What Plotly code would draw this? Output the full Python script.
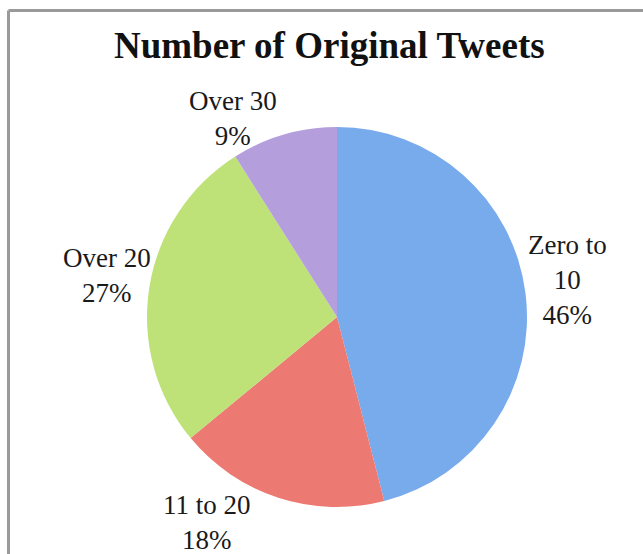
import plotly.graph_objects as go

categories = ["Zero to 10", "11 to 20", "Over 20", "Over 30"]
values = [46, 18, 27, 9]
label_lines = ["Zero to<br>10", "11 to 20", "Over 20", "Over 30"]
colors = ["#78ABEC", "#EC7972", "#BEE278", "#B59EDC"]

W, H = 643, 554
cx, cy, r = 337, 317, 190

fig = go.Figure()
fig.add_trace(go.Pie(
    labels=categories,
    values=values,
    sort=False,
    direction="clockwise",
    rotation=0,
    textinfo="none",
    hoverinfo="label+percent",
    marker=dict(colors=colors, line=dict(width=0)),
    domain=dict(x=[(cx - r) / W, (cx + r) / W], y=[1 - (cy + r) / H, 1 - (cy - r) / H]),
    showlegend=False,
))

# label positions (pixel centres)
label_pos = [(567, 280), (207, 522), (107, 275), (233, 118)]
total = sum(values)
for txt, v, (lx, ly) in zip(label_lines, values, label_pos):
    fig.add_annotation(
        x=lx / W, y=1 - ly / H, xref="paper", yref="paper",
        text=f"{txt}<br>{round(100 * v / total)}%",
        showarrow=False, align="center",
        font=dict(family="Liberation Serif", size=27, color="#1a1a1a"),
        xanchor="center", yanchor="middle",
    )

fig.add_annotation(
    x=329 / W, y=1 - 45 / H, xref="paper", yref="paper",
    text="<b>Number of Original Tweets</b>", showarrow=False,
    font=dict(family="Liberation Serif", size=37, color="#111111"),
    xanchor="center", yanchor="middle",
)

# chart border (top and left edges visible)
bx, by = 8.5 / W, 1 - 10.5 / H
fig.add_shape(type="line", xref="paper", yref="paper", x0=bx, y0=by, x1=1.02, y1=by,
              line=dict(color="#9a9a9a", width=3))
fig.add_shape(type="line", xref="paper", yref="paper", x0=bx, y0=by, x1=bx, y1=-0.02,
              line=dict(color="#9a9a9a", width=3))

fig.update_layout(
    width=W, height=H,
    margin=dict(l=0, r=0, t=0, b=0),
    paper_bgcolor="white", plot_bgcolor="white",
)

fig.write_html("out.html")
